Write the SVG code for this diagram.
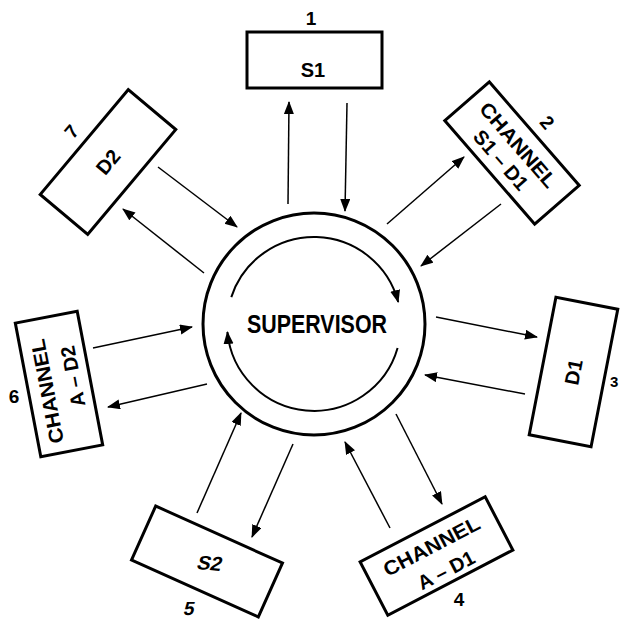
<svg xmlns="http://www.w3.org/2000/svg" width="621" height="620" viewBox="0 0 621 620">
<style>
.box{fill:#fff;stroke:#000;stroke-width:3}
.t{font-family:"Liberation Sans",Arial,sans-serif;font-weight:bold;fill:#000;text-anchor:middle}
.bt{font-size:20px}
.num{font-size:19px}
.c{stroke:#000;stroke-width:1.5;fill:none;marker-end:url(#ah)}
.arc{stroke:#000;stroke-width:2;fill:none;marker-end:url(#ah)}
</style>
<defs>
<marker id="ah" markerUnits="userSpaceOnUse" markerWidth="13" markerHeight="11" refX="12" refY="5" orient="auto"><path d="M0,0 L13,5 L0,10 z" fill="#000"/></marker>
</defs>
<rect width="621" height="620" fill="#fff"/>
<g id="supervisor">
<circle cx="314" cy="324" r="111" fill="none" stroke="#000" stroke-width="3"/>
<path class="arc" d="M231.3,297.1 A87,87 0 0 1 398.2,302"/>
<path class="arc" d="M397.6,348 A87,87 0 0 1 227.4,332"/>
<text class="t" x="317" y="333" font-size="25" textLength="140" lengthAdjust="spacingAndGlyphs">SUPERVISOR</text>
</g>
<g id="n1">
<rect class="box" x="247" y="32" width="135" height="56"/>
<text class="t bt" x="313" y="77">S1</text>
<text class="t num" x="311" y="25">1</text>
</g>
<g id="n2" transform="translate(512,153) rotate(49)">
<rect class="box" x="-68.5" y="-29.5" width="137" height="59"/>
<text class="t bt" x="-2" y="-3" textLength="106" lengthAdjust="spacingAndGlyphs">CHANNEL</text>
<text class="t bt" x="-2" y="20">S1 – D1</text>
<text class="t num" x="0" y="-40">2</text>
</g>
<g id="n3">
<g transform="translate(573.5,372) rotate(-79)">
<rect class="box" x="-70" y="-31.5" width="140" height="63"/>
<text class="t bt" x="0" y="7">D1</text>
</g>
<text class="t" font-size="15" x="610" y="387" style="text-anchor:start">3</text>
</g>
<g id="n4">
<g transform="translate(436.5,556) rotate(-27.5)">
<rect class="box" x="-70.5" y="-30" width="141" height="60"/>
<text class="t bt" x="0" y="-4" textLength="106" lengthAdjust="spacingAndGlyphs">CHANNEL</text>
<text class="t bt" x="2" y="24">A – D1</text>
</g>
<text class="t num" x="459" y="606">4</text>
</g>
<g id="n5">
<g transform="translate(207,561.5) rotate(24.2)">
<rect class="box" x="-69.5" y="-29.5" width="139" height="59"/>
</g>
<text class="t bt" transform="translate(208,570) rotate(5) skewX(-12)">S2</text>
<text class="t num" transform="translate(188,615) skewX(-12)">5</text>
</g>
<g id="n6">
<g transform="translate(59,384) rotate(-100.8)">
<rect class="box" x="-68" y="-31.5" width="136" height="63"/>
<text class="t bt" x="-5" y="-6" textLength="106" lengthAdjust="spacingAndGlyphs">CHANNEL</text>
<text class="t bt" x="5" y="22">A – D2</text>
</g>
<text class="t" font-size="19" x="14" y="403">6</text>
</g>
<g id="n7" transform="translate(108,162) rotate(-50)">
<rect class="box" x="-68.5" y="-31" width="137" height="62"/>
<text class="t bt" x="0" y="7">D2</text>
<text class="t num" x="0" y="-41">7</text>
</g>
<g id="connectors">
<line class="c" x1="288" y1="204" x2="289" y2="102"/>
<line class="c" x1="347" y1="103" x2="345" y2="211"/>
<line class="c" x1="387" y1="224" x2="464" y2="157"/>
<line class="c" x1="501" y1="204" x2="421" y2="266"/>
<line class="c" x1="436" y1="317" x2="537" y2="337"/>
<line class="c" x1="525" y1="394" x2="425" y2="375"/>
<line class="c" x1="396" y1="414" x2="442" y2="504"/>
<line class="c" x1="390" y1="528" x2="345" y2="442"/>
<line class="c" x1="293" y1="444" x2="252" y2="537"/>
<line class="c" x1="197" y1="513" x2="241" y2="413"/>
<line class="c" x1="93" y1="348" x2="192" y2="327"/>
<line class="c" x1="207" y1="384" x2="108" y2="407"/>
<line class="c" x1="158" y1="167" x2="237" y2="227"/>
<line class="c" x1="204" y1="273" x2="123" y2="209"/>
</g>
</svg>
